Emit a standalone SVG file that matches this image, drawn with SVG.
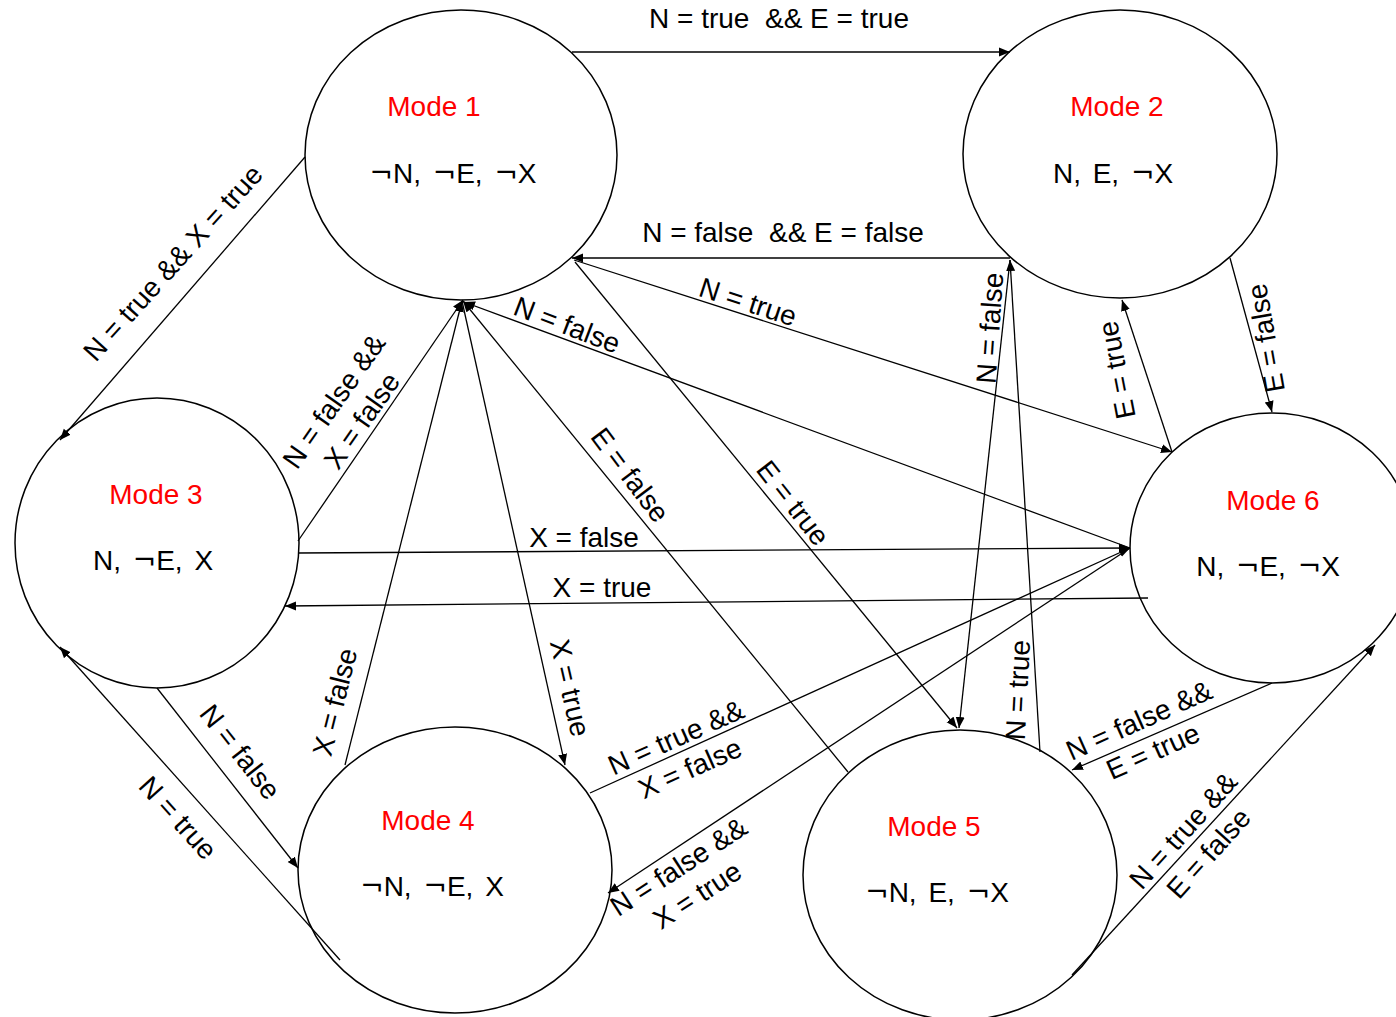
<svg xmlns="http://www.w3.org/2000/svg" width="1396" height="1017" viewBox="0 0 1396 1017">
<style>
.node{fill:#fff;stroke:#000;stroke-width:1.5}
.t{font-family:"Liberation Sans",Arial,sans-serif;font-size:28px;text-anchor:middle;dominant-baseline:central;fill:#000}
.m{fill:#ff0000}
.s{word-spacing:4px}
.n{font-family:"DejaVu Sans",sans-serif}
.c{stroke:#000;stroke-width:1.3;fill:none;marker-end:url(#ah)}
</style>
<defs>
<marker id="ah" markerWidth="12" markerHeight="10" refX="11" refY="5" orient="auto" markerUnits="userSpaceOnUse">
<path d="M0,0.5 L11,5 L0,9.5 Z" fill="#000"/>
</marker>
</defs>
<rect width="1396" height="1017" fill="#fff"/>
<g id="mode1"><ellipse class="node" cx="461" cy="155" rx="156" ry="145"/><text class="t m" x="434" y="106">Mode 1</text><text class="t s" x="453" y="173"><tspan class="n">¬</tspan>N, <tspan class="n">¬</tspan>E, <tspan class="n">¬</tspan>X</text></g>
<g id="mode2"><ellipse class="node" cx="1120" cy="154" rx="157" ry="144"/><text class="t m" x="1117" y="106">Mode 2</text><text class="t s" x="1113" y="173">N, E, <tspan class="n">¬</tspan>X</text></g>
<g id="mode3"><ellipse class="node" cx="157" cy="543" rx="142" ry="145"/><text class="t m" x="156" y="494">Mode 3</text><text class="t s" x="153" y="560">N, <tspan class="n">¬</tspan>E, X</text></g>
<g id="mode4"><ellipse class="node" cx="455" cy="870" rx="157" ry="143"/><text class="t m" x="428" y="820">Mode 4</text><text class="t s" x="432" y="886"><tspan class="n">¬</tspan>N, <tspan class="n">¬</tspan>E, X</text></g>
<g id="mode5"><ellipse class="node" cx="960" cy="875" rx="157" ry="145"/><text class="t m" x="934" y="826">Mode 5</text><text class="t s" x="937" y="892"><tspan class="n">¬</tspan>N, E, <tspan class="n">¬</tspan>X</text></g>
<g id="mode6"><ellipse class="node" cx="1272" cy="548" rx="142" ry="135"/><text class="t m" x="1273" y="500">Mode 6</text><text class="t s" x="1268" y="566">N, <tspan class="n">¬</tspan>E, <tspan class="n">¬</tspan>X</text></g>
<g id="connectors">
<line class="c" x1="572" y1="52" x2="1010" y2="52"/>
<line class="c" x1="1010" y1="258" x2="572" y2="258"/>
<line class="c" x1="305" y1="157" x2="60" y2="440"/>
<line class="c" x1="298" y1="541" x2="463" y2="300"/>
<line class="c" x1="345" y1="765" x2="462" y2="301"/>
<line class="c" x1="462" y1="301" x2="565" y2="765"/>
<line class="c" x1="848" y1="772" x2="463" y2="301"/>
<line class="c" x1="1130" y1="548" x2="464" y2="302"/>
<line class="c" x1="574" y1="260" x2="1172" y2="452"/>
<line class="c" x1="575" y1="262" x2="957" y2="728"/>
<line class="c" x1="298" y1="553" x2="1130" y2="548"/>
<line class="c" x1="1148" y1="598" x2="285" y2="606"/>
<line class="c" x1="157" y1="688" x2="298" y2="868"/>
<line class="c" x1="340" y1="960" x2="60" y2="647"/>
<line class="c" x1="590" y1="793" x2="1130" y2="548"/>
<line class="c" x1="1130" y1="548" x2="608" y2="893"/>
<line class="c" x1="1010" y1="260" x2="959" y2="728"/>
<line class="c" x1="1040" y1="752" x2="1010" y2="260"/>
<line class="c" x1="1172" y1="452" x2="1122" y2="300"/>
<line class="c" x1="1230" y1="258" x2="1272" y2="412"/>
<line class="c" x1="1272" y1="683" x2="1072" y2="770"/>
<line class="c" x1="1072" y1="975" x2="1375" y2="645"/>
</g>
<g id="labels">
<text class="t" x="779" y="18" xml:space="preserve">N = true  &amp;&amp; E = true</text>
<text class="t" x="783" y="232" xml:space="preserve">N = false  &amp;&amp; E = false</text>
<text class="t" transform="translate(173,263) rotate(-48)">N = true &amp;&amp; X = true</text>
<g transform="translate(348,411) rotate(-55)"><text class="t" x="0" y="-17">N = false &amp;&amp;</text><text class="t" x="0" y="17">X = false</text></g>
<text class="t" transform="translate(567,325) rotate(21)">N = false</text>
<text class="t" transform="translate(748,302) rotate(18)">N = true</text>
<text class="t" transform="translate(630,475) rotate(53)">E = false</text>
<text class="t" transform="translate(793,503) rotate(52)">E = true</text>
<text class="t" x="584" y="537">X = false</text>
<text class="t" x="602" y="587">X = true</text>
<text class="t" transform="translate(335,702) rotate(-76)">X = false</text>
<text class="t" transform="translate(570,688) rotate(77)">X = true</text>
<text class="t" transform="translate(240,752) rotate(52)">N = false</text>
<text class="t" transform="translate(178,818) rotate(48)">N = true</text>
<g transform="translate(683,753) rotate(-24)"><text class="t" x="0" y="-17">N = true &amp;&amp;</text><text class="t" x="0" y="17">X = false</text></g>
<g transform="translate(688,881) rotate(-33)"><text class="t" x="0" y="-17">N = false &amp;&amp;</text><text class="t" x="0" y="17">X = true</text></g>
<text class="t" transform="translate(990,328) rotate(-86)">N = false</text>
<text class="t" transform="translate(1018,690) rotate(-87)">N = true</text>
<text class="t" transform="translate(1117,370) rotate(-101)">E = true</text>
<text class="t" transform="translate(1266,338) rotate(-100)">E = false</text>
<g transform="translate(1146,736) rotate(-24)"><text class="t" x="0" y="-17">N = false &amp;&amp;</text><text class="t" x="0" y="17">E = true</text></g>
<g transform="translate(1196,842) rotate(-48)"><text class="t" x="0" y="-17">N = true &amp;&amp;</text><text class="t" x="0" y="17">E = false</text></g>
</g>
</svg>
